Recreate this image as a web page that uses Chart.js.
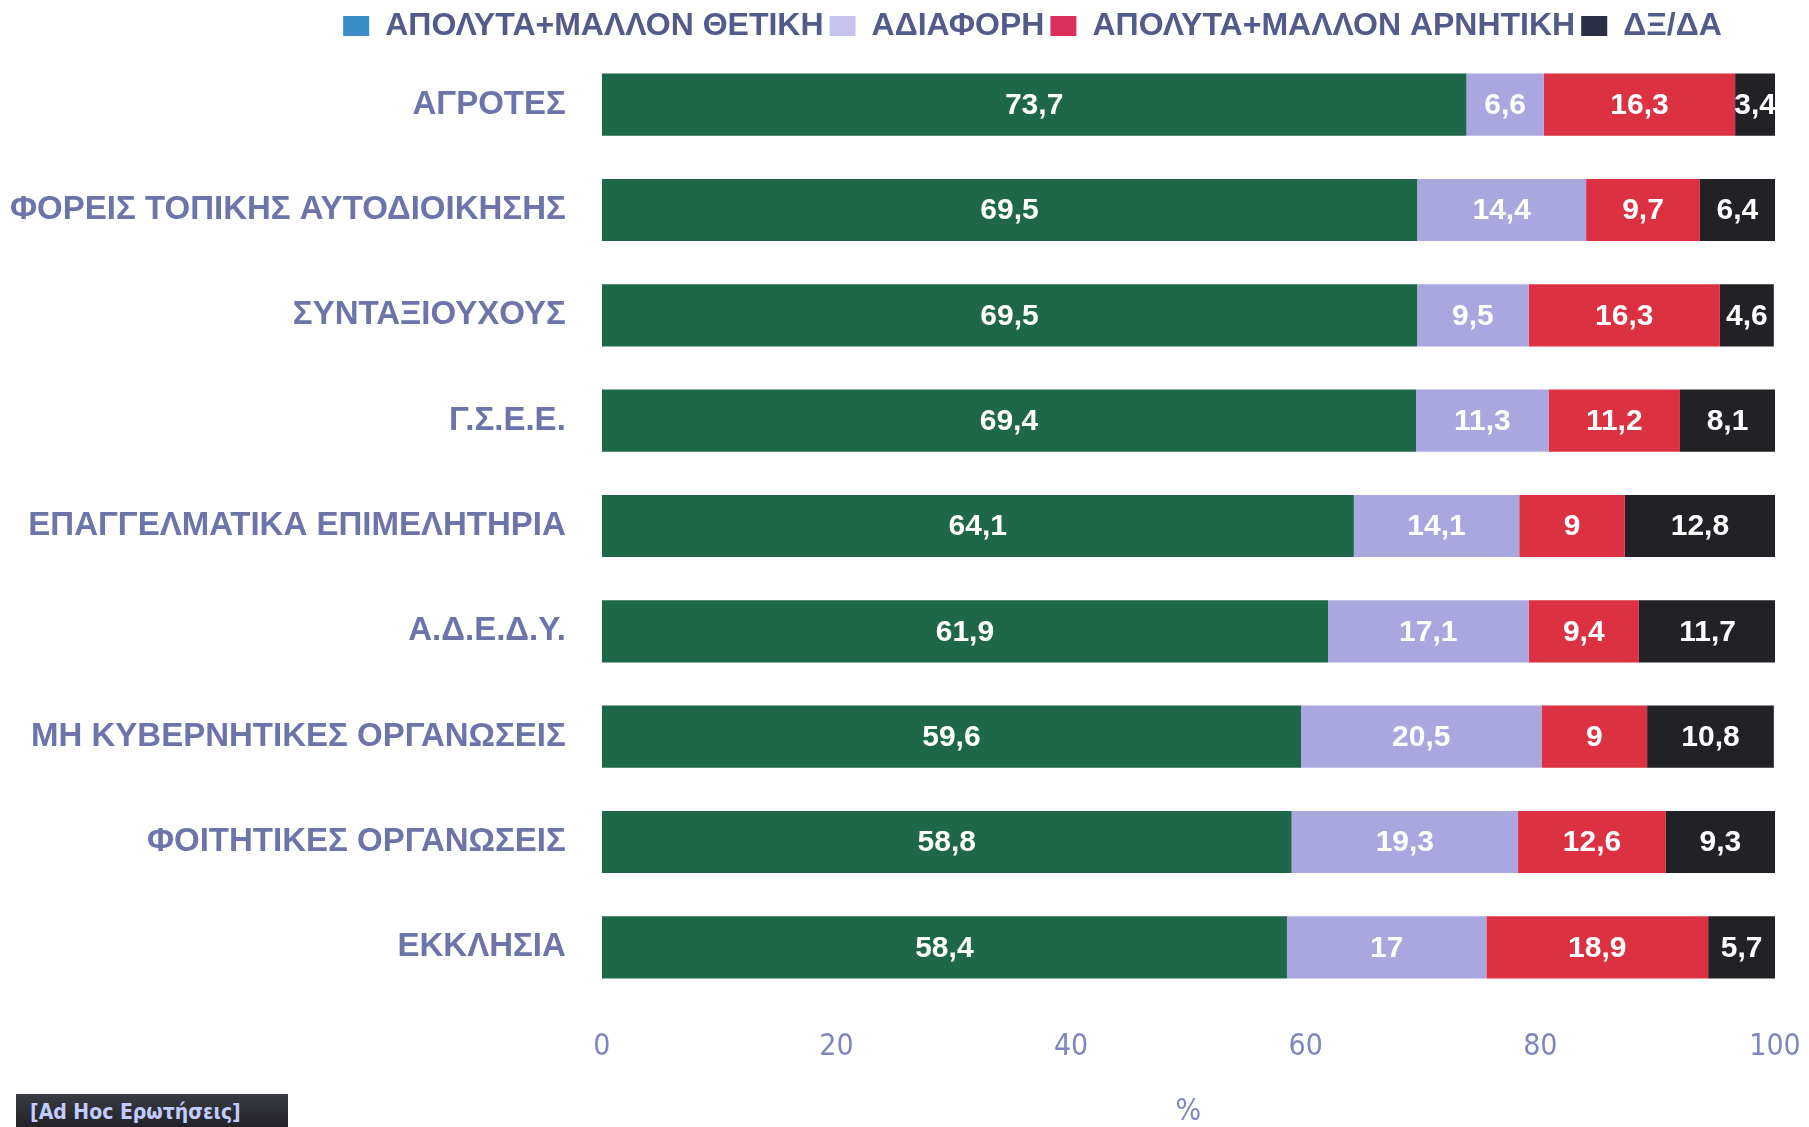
<!DOCTYPE html>
<html>
<head>
<meta charset="utf-8">
<script src="https://cdn.jsdelivr.net/npm/chart.js@4"></script>
<style>
  html, body { margin: 0; padding: 0; background: #fff; }
  #wrap { position: relative; width: 1809px; height: 1127px; }
  #adhoc {
    position: absolute; left: 16px; top: 1094px; width: 272px; height: 33px;
    background: linear-gradient(#3a3a42, #222228);
    color: #c2ccff; font: bold 21px "Liberation Sans Narrow", "DejaVu Sans Condensed", sans-serif;
    line-height: 36px; padding-left: 14px; box-sizing: border-box;
  }
</style>
</head>
<body>
<div id="wrap">
  <canvas id="chart" width="1809" height="1127"></canvas>
  <div id="adhoc">[Ad Hoc Ερωτήσεις]</div>
</div>
<script>
const categories = ['ΑΓΡΟΤΕΣ', 'ΦΟΡΕΙΣ ΤΟΠΙΚΗΣ ΑΥΤΟΔΙΟΙΚΗΣΗΣ', 'ΣΥΝΤΑΞΙΟΥΧΟΥΣ', 'Γ.Σ.Ε.Ε.',
    'ΕΠΑΓΓΕΛΜΑΤΙΚΑ ΕΠΙΜΕΛΗΤΗΡΙΑ', 'Α.Δ.Ε.Δ.Υ.', 'ΜΗ ΚΥΒΕΡΝΗΤΙΚΕΣ ΟΡΓΑΝΩΣΕΙΣ',
    'ΦΟΙΤΗΤΙΚΕΣ ΟΡΓΑΝΩΣΕΙΣ', 'ΕΚΚΛΗΣΙΑ'];
const seriesNames = ['ΑΠΟΛΥΤΑ+ΜΑΛΛΟΝ ΘΕΤΙΚΗ', 'ΑΔΙΑΦΟΡΗ', 'ΑΠΟΛΥΤΑ+ΜΑΛΛΟΝ ΑΡΝΗΤΙΚΗ', 'ΔΞ/ΔΑ'];
const positive = [73.7, 69.5, 69.5, 69.4, 64.1, 61.9, 59.6, 58.8, 58.4];
const neutral = [6.6, 14.4, 9.5, 11.3, 14.1, 17.1, 20.5, 19.3, 17];
const negative = [16.3, 9.7, 16.3, 11.2, 9, 9.4, 9, 12.6, 18.9];
const dkna = [3.4, 6.4, 4.6, 8.1, 12.8, 11.7, 10.8, 9.3, 5.7];
const xTicks = [0, 20, 40, 60, 80, 100];

const barColors = ['#1e6749', '#aaa6df', '#dc3043', '#222226'];
// legend swatches in the original don't match the bar colours
const legendColors = ['#3a8cc8', '#c6c4ee', '#d8305a', '#2b2e46'];

const narrow = '"Liberation Sans Narrow", "DejaVu Sans Condensed", sans-serif';
const sans = '"Liberation Sans", Arial, sans-serif';

// values written inside each segment
const valueLabels = {
    id: 'valueLabels',
    afterDatasetsDraw(chart) {
        const ctx = chart.ctx;
        ctx.save();
        ctx.font = 'bold 30px ' + sans;
        ctx.fillStyle = '#ffffff';
        ctx.textAlign = 'center';
        ctx.textBaseline = 'middle';
        chart.data.datasets.forEach((ds, i) => {
            chart.getDatasetMeta(i).data.forEach((bar, j) => {
                const p = bar.getCenterPoint();
                ctx.fillText(String(ds.data[j]).replace('.', ','), p.x, p.y + 1);
            });
        });
        ctx.restore();
    }
};

// nudge the legend to the right like the original
const legendShift = {
    id: 'legendShift',
    afterLayout(chart) {
        chart.legend.left += 158;
        chart.legend.right += 158;
    }
};

const datasets = [positive, neutral, negative, dkna].map((d, i) => ({
    label: seriesNames[i],
    data: d,
    backgroundColor: barColors[i],
    borderWidth: 0,
    barPercentage: 0.59,
    categoryPercentage: 1
}));

new Chart(document.getElementById('chart'), {
    type: 'bar',
    data: { labels: categories, datasets: datasets },
    options: {
        indexAxis: 'y',
        responsive: false,
        animation: false,
        layout: { padding: { left: -26, right: 34, top: 4, bottom: -3 } },
        scales: {
            x: {
                stacked: true,
                min: 0,
                max: 100,
                afterBuildTicks: axis => { axis.ticks = xTicks.map(v => ({ value: v })); },
                // let the "100" label hang into the right margin
                afterFit: axis => { axis.paddingRight = 0; },
                grid: { display: false, drawTicks: false },
                border: { display: false },
                ticks: { color: '#7f86bf', padding: 29, font: { family: narrow, size: 30 } },
                title: {
                    display: true, text: '%', color: '#7f86bf',
                    padding: { top: 0, bottom: 0 },
                    font: { family: narrow, size: 30 }
                }
            },
            y: {
                stacked: true,
                afterFit: axis => { axis.paddingTop = 0; axis.paddingBottom = 0; },
                grid: { display: false, drawTicks: false },
                border: { display: false },
                ticks: {
                    color: '#6c74aa', padding: 36,
                    font: { family: sans, size: 33, weight: 'bold' }
                }
            }
        },
        plugins: {
            tooltip: { enabled: false },
            legend: {
                position: 'top',
                labels: {
                    color: '#535b8a',
                    boxWidth: 26, boxHeight: 20, padding: 6,
                    font: { family: sans, size: 32, weight: 'bold' },
                    generateLabels: chart => chart.data.datasets.map((ds, i) => ({
                        text: ds.label,
                        fillStyle: legendColors[i],
                        strokeStyle: legendColors[i],
                        lineWidth: 0,
                        fontColor: '#535b8a',
                        datasetIndex: i
                    }))
                }
            }
        }
    },
    plugins: [valueLabels, legendShift]
});
</script>
</body>
</html>
